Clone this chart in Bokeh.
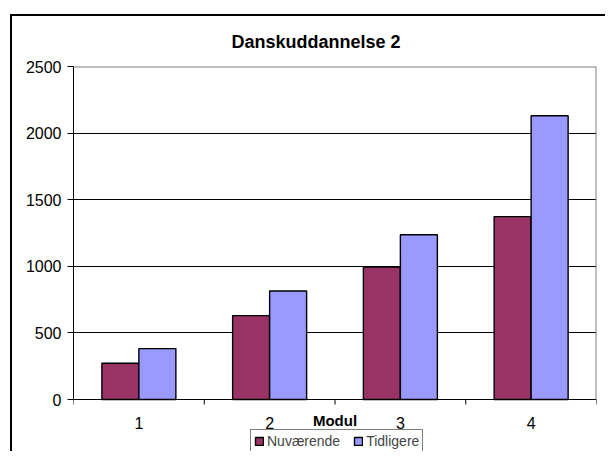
import math
from bokeh.plotting import figure
from bokeh.models import (ColumnDataSource, Range1d, FixedTicker, Legend, LegendItem, Title)
from bokeh.transform import dodge
from bokeh.core.properties import value
from bokeh.embed import file_html
from bokeh.resources import INLINE

# ---- data ----
moduler = ["1", "2", "3", "4"]
modul_pos = [1, 2, 3, 4]
nuvaerende = [272, 630, 995, 1373]
tidligere = [382, 815, 1237, 2130]
y_ticks = [0, 500, 1000, 1500, 2000, 2500]
title_text = "Danskuddannelse 2"
x_title = "Modul"
series_names = ["Nuværende", "Tidligere"]
colors = ["#993366", "#9999FF"]

FONT = "Liberation Sans"

# ---- layout constants (pixels) ----
W, H = 605, 451
FRAME_LEFT, FRAME_TOP, FRAME_RIGHT = 73, 66, 596
ZERO_Y = 399                      # pixel row of value 0
y_max = y_ticks[-1]
x_lo, x_hi = modul_pos[0] - 0.5, modul_pos[-1] + 0.5
# the frame reaches the canvas bottom; the value range is extended below 0
y_lo = -(H - ZERO_Y) / (ZERO_Y - FRAME_TOP) * y_max

src = ColumnDataSource(dict(x=modul_pos, nuv=nuvaerende, tid=tidligere))

p = figure(width=W, height=H, output_backend="svg", toolbar_location=None,
           x_range=Range1d(x_lo, x_hi), y_range=Range1d(y_lo, y_max),
           min_border_left=FRAME_LEFT, min_border_right=W - FRAME_RIGHT,
           min_border_top=FRAME_TOP, min_border_bottom=0)
p.background_fill_color = "white"
p.border_fill_alpha = 0
p.outline_line_color = None
# outer chart border (left and top edges; the rest lies beyond the window)
p.styles = {
    "background-color": "white",
    "background-image": "linear-gradient(#000,#000), linear-gradient(#000,#000)",
    "background-position": "9.5px 13.5px, 9.5px 13.5px",
    "background-size": "2px 100%, 100% 2px",
    "background-repeat": "no-repeat, no-repeat",
}

# title
p.title = Title(text=title_text, align="left", offset=158, standoff=30,
                text_font=FONT, text_font_size="18px", text_font_style="bold",
                text_color="black")

# grid (value lines) bounded to the plot area
p.xgrid.visible = False
p.ygrid.ticker = FixedTicker(ticks=y_ticks[:-1])
p.ygrid.grid_line_color = "black"
p.ygrid.grid_line_width = 1
p.ygrid.bounds = (x_lo, x_hi)

# plot-area border (top and right, grey)
p.line(x=[x_lo, x_hi, x_hi], y=[y_max, y_max, y_ticks[0]], line_color="#808080", line_width=2)

bw = 0.283
r1 = p.vbar(x=dodge("x", -0.1415, range=p.x_range), top="nuv", width=bw, source=src,
            fill_color=colors[0], line_color="black", line_width=1.4)
r2 = p.vbar(x=dodge("x", 0.1415, range=p.x_range), top="tid", width=bw, source=src,
            fill_color=colors[1], line_color="black", line_width=1.4)

# y axis
p.yaxis.ticker = FixedTicker(ticks=y_ticks)
p.yaxis.bounds = (y_ticks[0], y_max)
p.yaxis.axis_line_color = "black"
p.yaxis.major_tick_line_color = "black"
p.yaxis.major_tick_out = 6
p.yaxis.major_tick_in = 0
p.yaxis.minor_tick_line_color = None
p.yaxis.major_label_standoff = 6
p.yaxis.major_label_text_font = FONT
p.yaxis.major_label_text_font_size = "16px"
p.yaxis.major_label_text_color = "black"

# category axis drawn at value 0: tick marks at category boundaries, labels at centres
p.xaxis.visible = False
bounds = [x_lo + i for i in range(len(modul_pos) + 1)]
p.ray(x=bounds, y=[0] * len(bounds), length=5, length_units="screen",
      angle=-math.pi / 2, line_color="black", line_width=1)
p.text(x=modul_pos, y=[0] * len(modul_pos), text=moduler, y_offset=23,
       text_font=value(FONT), text_font_size="16px", text_color="black",
       text_align="center", text_baseline="middle")
p.text(x=[(x_lo + x_hi) / 2], y=[0], text=[x_title], y_offset=21,
       text_font=value(FONT), text_font_size="15px", text_font_style="bold",
       text_color="black", text_align="center", text_baseline="middle")

legend = Legend(items=[LegendItem(label=series_names[0], renderers=[r1]),
                       LegendItem(label=series_names[1], renderers=[r2])],
                orientation="horizontal", location=(250 - FRAME_LEFT, -2),
                glyph_width=10, glyph_height=10, label_height=16, label_standoff=3,
                spacing=13, padding=3, margin=0,
                label_text_font=FONT, label_text_font_size="14px",
                border_line_color="black", border_line_width=1,
                background_fill_color="white", background_fill_alpha=1)
p.add_layout(legend)

open("out.html", "w").write(file_html(p, INLINE))
